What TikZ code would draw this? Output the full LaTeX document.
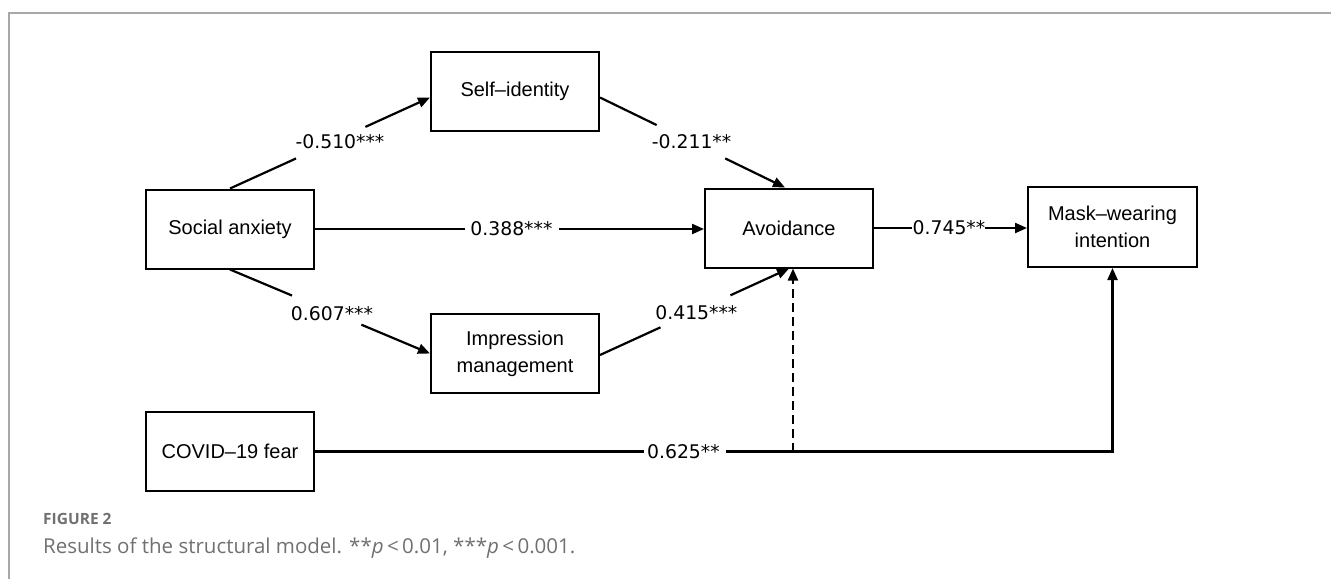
\documentclass[tikz,border=0pt]{standalone}
\usepackage{fontspec}
\setmainfont{Liberation Sans}
\newfontfamily\labfont{DejaVu Sans}
\newfontfamily\capfont{Open Sans}
\usetikzlibrary{arrows.meta,calc}
\definecolor{capgray}{HTML}{707070}
\definecolor{framegray}{HTML}{A8A8A8}
\begin{document}
\begin{tikzpicture}[x=1pt,y=-1pt,
  box/.style={draw, line width=2pt, minimum width=168pt, minimum height=79pt, align=center,
    font=\fontsize{20}{27}\selectfont, inner sep=0pt},
  lbl/.style={font=\labfont\fontsize{18.8}{20}\selectfont, inner sep=0pt},
  conn/.style={line width=2.2pt},
  arr/.style={conn, -{Triangle[length=12pt,width=10pt]}},
  dsh/.style={arr, dash pattern=on 9pt off 5pt}]
\useasboundingbox (0,0) rectangle (1331,579);
\draw[framegray, line width=1.5pt] (9,579) -- (9,13) -- (1331,13);
% boxes
\node[box] (SI) at (515,91.5) {Self–identity};
\node[box] (SA) at (230,229) {Social anxiety};
\node[box] (AV) at (789,228) {Avoidance};
\node[box, minimum width=169pt, minimum height=80pt] (MW) at (1112.5,227) {Mask–wearing\\intention};
\node[box] (IM) at (515,353.5) {Impression\\management};
\node[box] (CF) at (230,451.5) {COVID–19 fear};
% helper coordinates
\coordinate (siin) at ($(SI.west)+(0,6)$);
\coordinate (siout) at ($(SI.east)+(0,6)$);
\coordinate (avtop) at ($(AV.north)+(-4,0)$);
\coordinate (avbot) at ($(AV.south)+(0,0)$);
\coordinate (avdash) at ($(AV.south)+(4,0)$);
\coordinate (imout) at ($(IM.east)+(0,1.5)$);
% SA -> SI
\path (SA.north) -- (siin) coordinate[pos=.33] (a1) coordinate[pos=.677] (a2)
  node[lbl, pos=.55, yshift=-3pt] (l1) {-0.510***};
\draw[conn] (SA.north) -- (a1);
\draw[arr] (a2) -- (siin);
% SI -> AV
\path (siout) -- (avtop) coordinate[pos=.306] (b1) coordinate[pos=.677] (b2)
  node[lbl, pos=.495] (l2) {-0.211**};
\draw[conn] (siout) -- (b1);
\draw[arr] (b2) -- (avtop);
% SA -> AV
\path (SA.east) -- (SA.east -| AV.west) coordinate[pos=.385] (c1) coordinate[pos=.628] (c2)
  node[lbl, pos=.505] (l3) {0.388***};
\draw[conn] (SA.east) -- (c1);
\draw[arr] (c2) -- (SA.east -| AV.west);
% AV -> MW
\path (AV.east) -- (AV.east -| MW.west) coordinate[pos=.247] (d1) coordinate[pos=.727] (d2)
  node[lbl, pos=.49] (l4) {0.745**};
\draw[conn] (AV.east) -- (d1);
\draw[arr] (d2) -- (AV.east -| MW.west);
% SA -> IM
\path (SA.south) -- (IM.west) coordinate[pos=.31] (e1) coordinate[pos=.657] (e2)
  node[lbl, pos=.51, yshift=-1pt] (l5) {0.607***};
\draw[conn] (SA.south) -- (e1);
\draw[arr] (e2) -- (IM.west);
% IM -> AV
\path (imout) -- (avbot) coordinate[pos=.32] (f1) coordinate[pos=.69] (f2)
  node[lbl, pos=.51, yshift=-2pt] (l6) {0.415***};
\draw[conn] (imout) -- (f1);
\draw[arr] (f2) -- (avbot);
% CF -> MW
\coordinate (corner) at (MW.south |- CF.east);
\path (CF.east) -- (corner) coordinate[pos=.412] (g1) coordinate[pos=.515] (g2)
  node[lbl, pos=.462] (l7) {0.625**};
\draw[conn] (CF.east) -- (g1);
\draw[arr] (g2) -- (corner) -- (MW.south);
% moderation (dashed)
\coordinate (dstart) at (avdash |- CF.east);
\draw[dsh] (dstart) -- (avdash);
% caption
\node[anchor=base west, inner sep=0pt, text=capgray, font=\capfont\bfseries\fontsize{15.5}{17}\selectfont] (fig) at (43,524) {FIGURE 2};
\node[anchor=base west, inner sep=0pt, text=capgray, font=\capfont\fontsize{20.5}{22}\selectfont] (cap) at (43,553) {Results of the structural model. **\textit{p}\,<\,0.01, ***\textit{p}\,<\,0.001.};
\end{tikzpicture}
\end{document}
